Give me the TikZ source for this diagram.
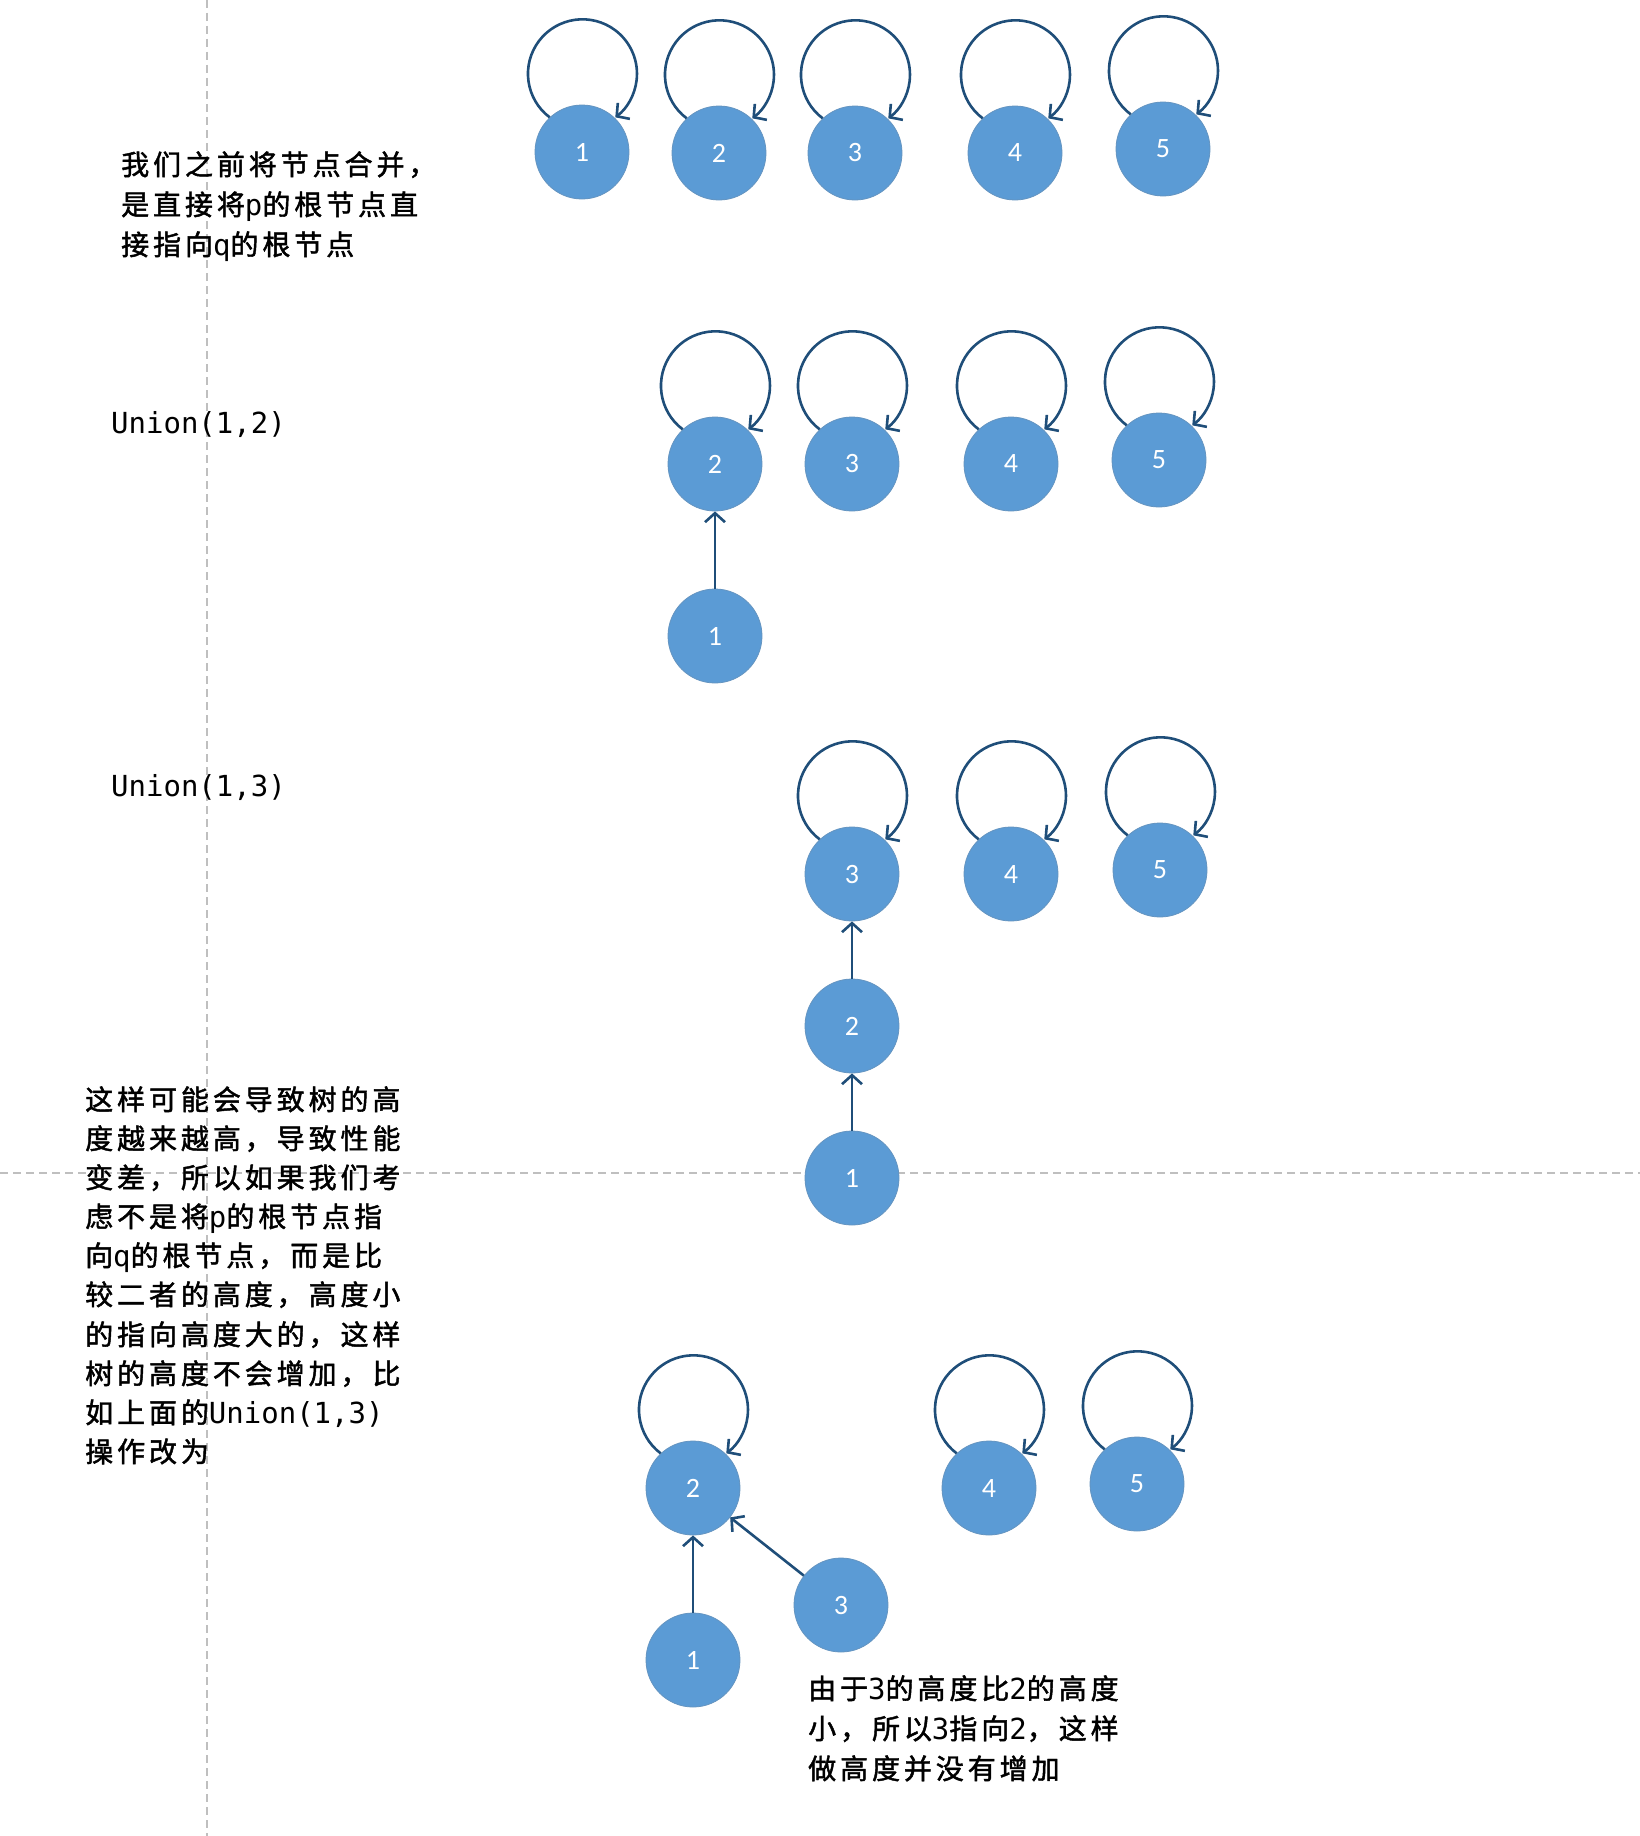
\documentclass[tikz,border=0pt]{standalone}
\usepackage{fontspec}
\setmainfont{Carlito}
\newfontfamily\cjkf[LetterSpace=14,FakeBold=1.6]{Noto Sans CJK SC}
\newfontfamily\monof{DejaVu Sans Mono}
\usetikzlibrary{arrows.meta}
\definecolor{nodeblue}{HTML}{5B9BD5}
\definecolor{edgeblue}{HTML}{1F4E79}
\definecolor{dashgray}{HTML}{BFBFBF}
\newcommand{\mn}[1]{{\monof\fontsize{29}{29}\selectfont #1}}
\newcommand{\drawloop}[1]{\draw[loopline] (#1.133) arc[start angle=233, end angle=-53, radius=54.5pt];}
\begin{document}
\begin{tikzpicture}[x=1pt,y=-1pt,
  vnode/.style={circle, fill=nodeblue, draw=nodeblue!75!gray, line width=0.8pt, minimum size=94pt, inner sep=0pt, text=white, font=\fontsize{28}{28}\selectfont},
  loopline/.style={draw=edgeblue, line width=2.6pt, -{Straight Barb[length=9pt,width=20pt]}},
  link/.style={draw=edgeblue, line width=2.6pt, -{Straight Barb[length=9pt,width=20pt]}},
  cjktext/.style={anchor=base west, inner sep=0pt, font=\cjkf\fontsize{28}{28}\selectfont},
  codetext/.style={anchor=base west, inner sep=0pt, font=\monof\fontsize{29}{29}\selectfont},
  guide/.style={draw=dashgray, line width=1.3pt, dash pattern=on 8pt off 5pt}]
\fill[white] (0,0) rectangle (1640,1836);
\useasboundingbox (0,0) rectangle (1640,1836);
% guide lines
\coordinate (gvt) at (207,0);
\coordinate (gvb) at (207,1836);
\coordinate (ghl) at (0,1173);
\coordinate (ghr) at (1640,1173);
\draw[guide] (gvt) -- (gvb);
\draw[guide] (ghl) -- (ghr);
% texts
\node[cjktext] (t1) at (121,175) {我们之前将节点合并，};
\node[cjktext] (t2) at (121,215) {是直接将\mn{p}的根节点直};
\node[cjktext] (t3) at (121,255) {接指向\mn{q}的根节点};
\node[codetext] (u12) at (111,433) {Union(1,2)};
\node[codetext] (u13) at (111,796) {Union(1,3)};
\node[cjktext] (s1) at (85,1110) {这样可能会导致树的高};
\node[cjktext] (s2) at (85,1149) {度越来越高，导致性能};
\node[cjktext] (s3) at (85,1188) {变差，所以如果我们考};
\node[cjktext] (s4) at (85,1227) {虑不是将\mn{p}的根节点指};
\node[cjktext] (s5) at (85,1266) {向\mn{q}的根节点，而是比};
\node[cjktext] (s6) at (85,1305) {较二者的高度，高度小};
\node[cjktext] (s7) at (85,1345) {的指向高度大的，这样};
\node[cjktext] (s8) at (85,1384) {树的高度不会增加，比};
\node[cjktext] (s9) at (85,1423) {如上面的\mn{Union(1,3)}};
\node[cjktext] (s10) at (85,1462) {操作改为};
\node[cjktext] (b1) at (808,1699) {由于\mn{3}的高度比\mn{2}的高度};
\node[cjktext] (b2) at (808,1739) {小，所以\mn{3}指向\mn{2}，这样};
\node[cjktext] (b3) at (808,1779) {做高度并没有增加};
% row 1
\node[vnode] (a1) at (582,152) {1};
\node[vnode] (a2) at (719,153) {2};
\node[vnode] (a3) at (855,153) {3};
\node[vnode] (a4) at (1015,153) {4};
\node[vnode] (a5) at (1163,149) {5};
\drawloop{a1}\drawloop{a2}\drawloop{a3}\drawloop{a4}\drawloop{a5}
% row 2
\node[vnode] (b2n) at (715,464) {2};
\node[vnode] (b3n) at (852,464) {3};
\node[vnode] (b4n) at (1011,464) {4};
\node[vnode] (b5n) at (1159,460) {5};
\node[vnode] (b1n) at (715,636) {1};
\drawloop{b2n}\drawloop{b3n}\drawloop{b4n}\drawloop{b5n}
\draw[link] (b1n) -- (b2n);
% row 3
\node[vnode] (c3) at (852,874) {3};
\node[vnode] (c4) at (1011,874) {4};
\node[vnode] (c5) at (1160,870) {5};
\node[vnode] (c2) at (852,1026) {2};
\node[vnode] (c1) at (852,1178) {1};
\drawloop{c3}\drawloop{c4}\drawloop{c5}
\draw[link] (c2) -- (c3);
\draw[link] (c1) -- (c2);
% row 4
\node[vnode] (d2) at (693,1488) {2};
\node[vnode] (d4) at (989,1488) {4};
\node[vnode] (d5) at (1137,1484) {5};
\node[vnode] (d3) at (841,1605) {3};
\node[vnode] (d1) at (693,1660) {1};
\drawloop{d2}\drawloop{d4}\drawloop{d5}
\draw[link] (d1) -- (d2);
\draw[link] (d3) -- (d2);
\end{tikzpicture}
\end{document}
